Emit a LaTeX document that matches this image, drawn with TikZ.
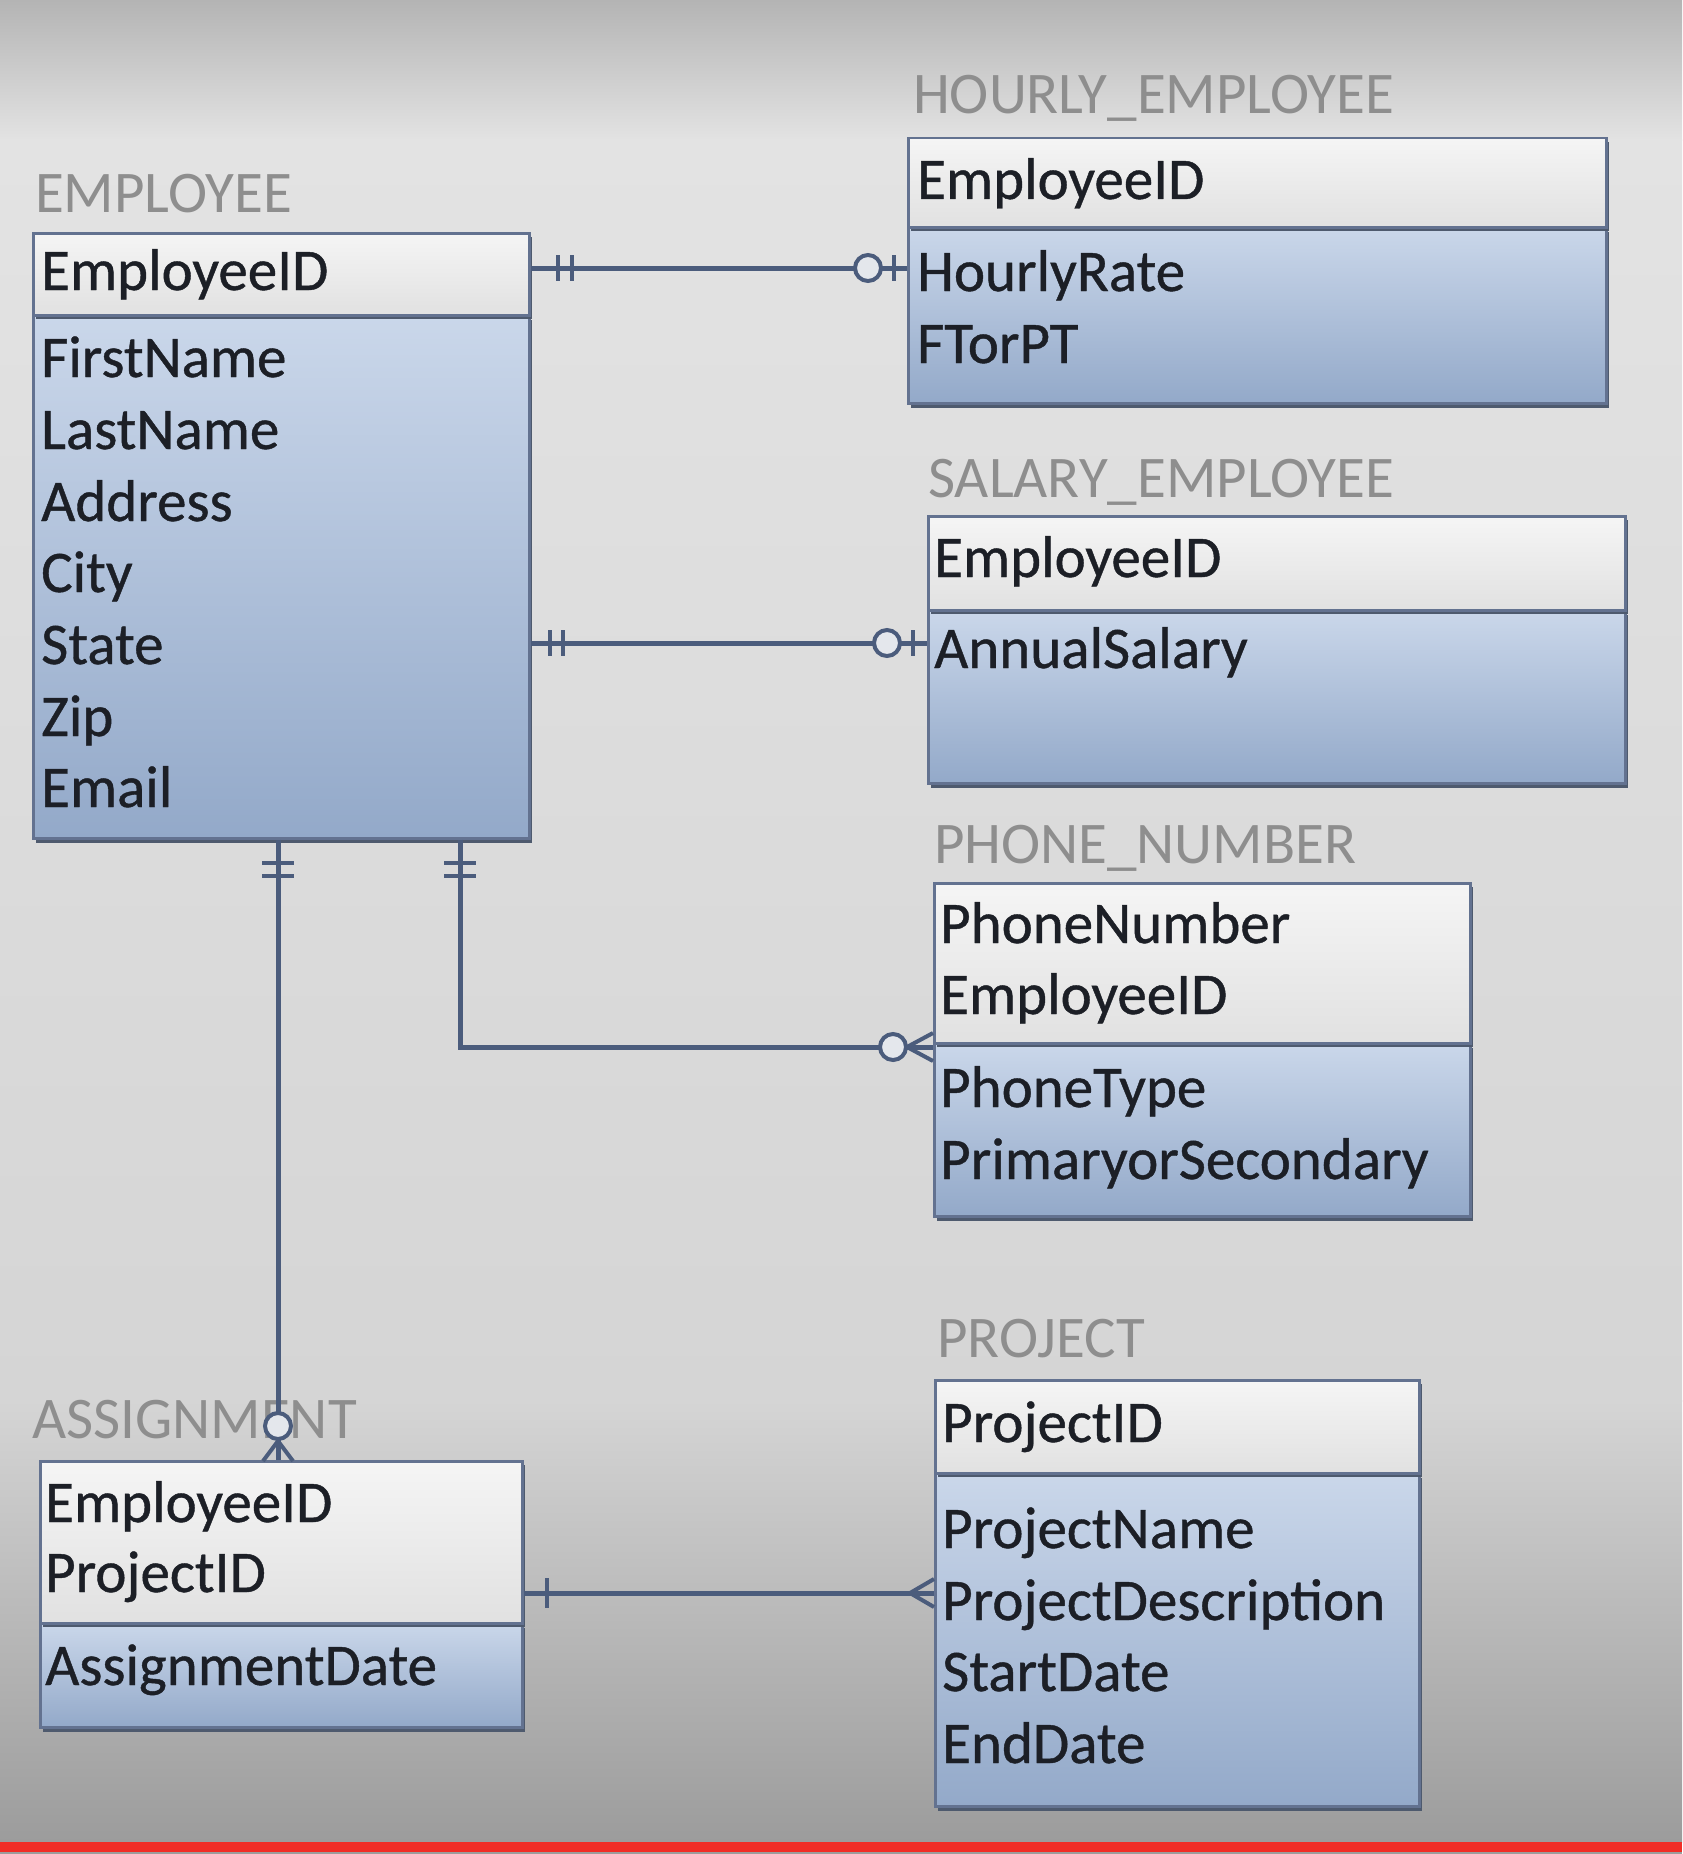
\documentclass[tikz,border=0pt]{standalone}
\usepackage{fontspec}
\setmainfont{Carlito}
\newfontfamily\attrfont[FakeBold=0.7]{Carlito}
\usetikzlibrary{shadows,calc}
\definecolor{lnc}{HTML}{4B5C7C}
\definecolor{bdc}{HTML}{637290}
\definecolor{shc}{HTML}{4E5A6E}
\definecolor{hdt}{HTML}{F5F5F5}
\definecolor{hdb}{HTML}{E1E1E1}
\definecolor{bdt}{HTML}{CAD7EA}
\definecolor{bdb}{HTML}{93A9C9}
\definecolor{lblc}{HTML}{8E8E8E}
\definecolor{txc}{HTML}{1C1F26}
\definecolor{ringf}{HTML}{E4E7EC}
\definecolor{bg0}{HTML}{B4B4B4}
\definecolor{bg1}{HTML}{E3E3E3}
\definecolor{bg2}{HTML}{D5D5D5}
\definecolor{bg3}{HTML}{9C9C9C}
\definecolor{redbar}{HTML}{F02D26}
\tikzset{
  hdr/.style={draw=bdc, line width=2.5pt, top color=hdt, bottom color=hdb, inner sep=0pt, anchor=north west,
    general shadow={fill=shc, shadow xshift=3pt, shadow yshift=-4pt}},
  bdy/.style={draw=bdc, line width=2.5pt, top color=bdt, bottom color=bdb, inner sep=0pt, anchor=north west,
    general shadow={fill=shc, shadow xshift=3pt, shadow yshift=-5pt}},
  attr/.style={font=\attrfont\fontsize{59}{70}\selectfont, text=txc, inner sep=0pt, anchor=base west},
  lbl/.style={font=\fontsize{59}{70}\selectfont, text=lblc, inner sep=0pt, anchor=base west},
  conn/.style={draw=lnc, line width=5pt},
  mk/.style={draw=lnc, line width=4pt},
  ring/.style={circle, draw=lnc, line width=4pt, fill=ringf, minimum size=26pt, inner sep=0pt},
}
\begin{document}
\begin{tikzpicture}[x=1pt,y=-1pt]
\useasboundingbox (0,0) rectangle (1682,1854);
% background
\shade[top color=bg0, bottom color=bg1] (0,0) rectangle (1682,141);
\shade[top color=bg1, bottom color=bg2] (0,140) rectangle (1682,1401);
\shade[top color=bg2, bottom color=bg3] (0,1400) rectangle (1682,1842);
\fill[redbar] (0,1842) rectangle (1682,1852);
\fill[bg3] (0,1852) rectangle (1682,1854);

% EMPLOYEE
\node[lbl] (empL) at (35,212) {EMPLOYEE};
\node[bdy, minimum width=496pt, minimum height=523pt] (empB) at (32,314) {};
\node[hdr, minimum width=496pt, minimum height=82pt] (empH) at (32,232) {};
\node[attr] (emp1) at (41,290) {EmployeeID};
\node[attr] (emp2) at (41,377) {FirstName};
\node[attr] (emp3) at (41,449) {LastName};
\node[attr] (emp4) at (41,521) {Address};
\node[attr] (emp5) at (41,592) {City};
\node[attr] (emp6) at (41,664) {State};
\node[attr] (emp7) at (41,736) {Zip};
\node[attr] (emp8) at (41,807) {Email};

% HOURLY_EMPLOYEE
\node[lbl] (hrL) at (913,114) {HOURLY\_EMPLOYEE};
\node[bdy, minimum width=698pt, minimum height=176pt] (hrB) at (907,226) {};
\node[hdr, minimum width=698pt, minimum height=89pt] (hrH) at (907,137) {};
\node[attr] (hr1) at (917,199) {EmployeeID};
\node[attr] (hr2) at (917,291) {HourlyRate};
\node[attr] (hr3) at (917,363) {FTorPT};

% SALARY_EMPLOYEE
\node[lbl] (saL) at (928,497) {SALARY\_EMPLOYEE};
\node[bdy, minimum width=697pt, minimum height=173pt] (saB) at (927,609) {};
\node[hdr, minimum width=697pt, minimum height=94pt] (saH) at (927,515) {};
\node[attr] (sa1) at (934,577) {EmployeeID};
\node[attr] (sa2) at (934,668) {AnnualSalary};

% PHONE_NUMBER
\node[lbl] (phL) at (934,863) {PHONE\_NUMBER};
\node[bdy, minimum width=536pt, minimum height=173pt] (phB) at (933,1042) {};
\node[hdr, minimum width=536pt, minimum height=160pt] (phH) at (933,882) {};
\node[attr] (ph1) at (940,943) {PhoneNumber};
\node[attr] (ph2) at (940,1014) {EmployeeID};
\node[attr] (ph3) at (940,1107) {PhoneType};
\node[attr] (ph4) at (940,1179) {PrimaryorSecondary};

% PROJECT
\node[lbl] (prL) at (937,1357) {PROJECT};
\node[bdy, minimum width=484pt, minimum height=333pt] (prB) at (934,1472) {};
\node[hdr, minimum width=484pt, minimum height=93pt] (prH) at (934,1379) {};
\node[attr] (pr1) at (942,1442) {ProjectID};
\node[attr] (pr2) at (942,1548) {ProjectName};
\node[attr] (pr3) at (942,1620) {ProjectDescription};
\node[attr] (pr4) at (942,1691) {StartDate};
\node[attr] (pr5) at (942,1763) {EndDate};

% ASSIGNMENT
\node[lbl] (asL) at (32,1438) {ASSIGNMENT};
\node[bdy, minimum width=482pt, minimum height=104pt] (asB) at (39,1622) {};
\node[hdr, minimum width=482pt, minimum height=162pt] (asH) at (39,1460) {};
\node[attr] (as1) at (45,1522) {EmployeeID};
\node[attr] (as2) at (45,1592) {ProjectID};
\node[attr] (as3) at (45,1685) {AssignmentDate};

% helper coordinates for connector lines
\coordinate (k1) at (0,268);
\coordinate (k2) at (0,643);
\coordinate (k3) at (278,0);
\coordinate (k4) at (460,1047);
\coordinate (k5) at (0,1593);

% 1: EMPLOYEE -- HOURLY_EMPLOYEE
\draw[conn] (empH.east |- k1) -- (hrB.west |- k1);
\draw[mk] (558,255) -- (558,281);
\draw[mk] (572,255) -- (572,281);
\draw[mk] (894,255) -- (894,281);
\node[ring] (r1) at (868,268) {};

% 2: EMPLOYEE -- SALARY_EMPLOYEE
\draw[conn] (empB.east |- k2) -- (saB.west |- k2);
\draw[mk] (550,630) -- (550,656);
\draw[mk] (563,630) -- (563,656);
\draw[mk] (913,630) -- (913,656);
\node[ring] (r2) at (887,643) {};

% 3: EMPLOYEE -- ASSIGNMENT
\draw[conn] (empB.south -| k3) -- (asH.north -| k3);
\draw[mk] (262,863) -- (294,863);
\draw[mk] (262,876) -- (294,876);
\draw[mk] (278,1441) -- (263,1461);
\draw[mk] (278,1441) -- (293,1461);
\node[ring] (r3) at (278,1426) {};

% 4: EMPLOYEE -- PHONE_NUMBER
\draw[conn] (empB.south -| k4) -- (k4) -- (phB.west |- k4);
\draw[mk] (444,863) -- (476,863);
\draw[mk] (444,876) -- (476,876);
\draw[mk] (907,1047) -- (933,1033);
\draw[mk] (907,1047) -- (933,1061);
\node[ring] (r4) at (893,1047) {};

% 5: ASSIGNMENT -- PROJECT
\draw[conn] (asH.east |- k5) -- (prB.west |- k5);
\draw[mk] (547,1578) -- (547,1608);
\draw[mk] (910,1593) -- (934,1579);
\draw[mk] (910,1593) -- (934,1607);
\end{tikzpicture}
\end{document}
